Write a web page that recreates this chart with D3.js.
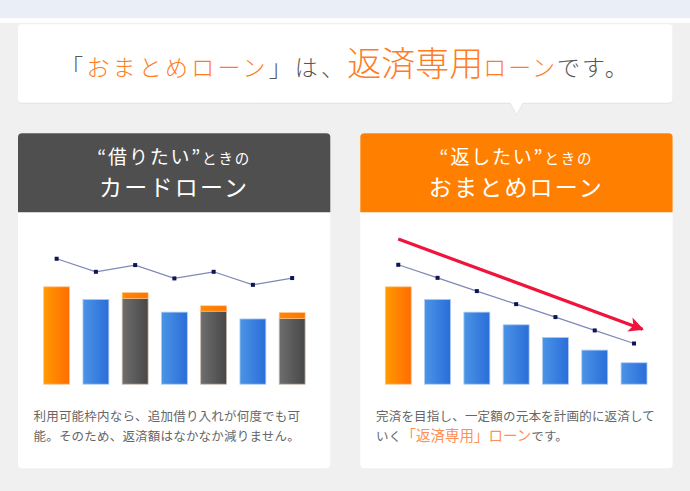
<!DOCTYPE html>
<html>
<head>
<meta charset="utf-8">
<script src="https://cdn.jsdelivr.net/npm/d3@7"></script>
<style>
    body { margin: 0; background: #f0f0f0; }
    svg { display: block; font-family: "Noto Sans CJK JP", "Noto Sans", sans-serif; }
</style>
</head>
<body>
<svg id="page" width="690" height="491"></svg>
<script>
// chart data
const periods = ["1", "2", "3", "4", "5", "6", "7"];

// card loan: principal part, extra borrowing on top, bar kind
const cardBase = [100, 87, 88, 74, 75, 67, 67.5];
const cardExtra = [0, 0, 6, 0, 5.5, 0, 6];
const cardKind = ["orange", "blue", "gray", "blue", "gray", "blue", "gray"];
const cardLine = [128.8, 115.4, 122.3, 108.6, 115.4, 102, 109];

// consolidation loan
const consBars = [100, 87, 74, 61, 48, 35, 22];
const consExtra = [0, 0, 0, 0, 0, 0, 0];
const consKind = ["orange", "blue", "blue", "blue", "blue", "blue", "blue"];
const consLine = [122.6, 109.2, 95.6, 82.2, 68.9, 55.2, 41.8];
const consArrow = [149, 56.5];

const svg = d3.select("#page");

/**
 * Gradients used by the bars
 */
function addDefs() {
    let defs = svg.append("defs");
    let grads = {
        orange: ["#ff9a00", "#ff6c00"],
        blue: ["#4b94e6", "#2a6dd9"],
        gray: ["#6e6e6e", "#474747"],
        cap: ["#ff8a00", "#ff7400"]
    };
    Object.keys(grads).forEach(function (k) {
        let g = defs.append("linearGradient").attr("id", "g-" + k)
            .attr("x1", 0).attr("x2", 1).attr("y1", 0).attr("y2", 0);
        g.append("stop").attr("offset", "0%").attr("stop-color", grads[k][0]);
        g.append("stop").attr("offset", "100%").attr("stop-color", grads[k][1]);
    });
    defs.append("marker").attr("id", "arrowhead")
        .attr("viewBox", "0 0 10 10").attr("refX", 9).attr("refY", 5)
        .attr("markerUnits", "userSpaceOnUse")
        .attr("markerWidth", 21).attr("markerHeight", 15)
        .attr("orient", "auto")
        .append("path").attr("d", "M0,0 L10,5 L0,10 L2.5,5 Z").attr("fill", "#f0143c");
}

const strokeOf = { orange: "#ffc38a", blue: "#aecbf2", gray: "#c9b9a8" };

function drawBackground() {
    svg.append("rect").attr("width", 690).attr("height", 18.3).attr("fill", "#eaeef7");
    svg.append("rect").attr("y", 18.3).attr("width", 690).attr("height", 4.4).attr("fill", "#ffffff");

    // title bubble
    svg.append("rect").attr("x", 18).attr("y", 25.3).attr("width", 654.5).attr("height", 78.5)
        .attr("rx", 4).attr("fill", "#e2e2e2");
    svg.append("polygon").attr("points", "509.5,103 523.5,103 516.7,115.5").attr("fill", "#e4e4e4");
    svg.append("rect").attr("x", 18).attr("y", 24.3).attr("width", 654.5).attr("height", 78.4)
        .attr("rx", 4).attr("fill", "#ffffff");
    svg.append("polygon").attr("points", "510,102 523,102 516.7,114.3").attr("fill", "#ffffff");

    let t = svg.append("text").attr("x", 345).attr("y", 75.5)
        .attr("text-anchor", "middle").attr("font-weight", 300)
        .attr("font-size", 23).attr("letter-spacing", 3.2).attr("fill", "#555");
    t.append("tspan").text("「");
    t.append("tspan").attr("fill", "#ff7d1e").text("おまとめローン");
    t.append("tspan").text("」は、");
    t.append("tspan").attr("fill", "#ff7d1e").attr("font-size", 34).attr("letter-spacing", 0).text("返済専用");
    t.append("tspan").attr("fill", "#ff7d1e").attr("letter-spacing", 2).text("ローン");
    t.append("tspan").attr("letter-spacing", 2).text("です。");
}

/**
 * Draws one card (header + white body)
 */
function drawCard(x0, headColor, head1, head1Small, head2) {
    let w = 312.3, cx = x0 + w / 2;
    svg.append("rect").attr("x", x0).attr("y", 133.3).attr("width", w).attr("height", 335)
        .attr("rx", 4).attr("fill", "#ffffff");
    svg.append("path")
        .attr("d", `M${x0},212.3 V137.3 Q${x0},133.3 ${x0 + 4},133.3 H${x0 + w - 4} Q${x0 + w},133.3 ${x0 + w},137.3 V212.3 Z`)
        .attr("fill", headColor);

    let t1 = svg.append("text").attr("x", cx).attr("y", 163.5).attr("text-anchor", "middle")
        .attr("fill", "#ffffff").attr("font-size", 19).attr("letter-spacing", 1.8);
    t1.append("tspan").text(head1);
    t1.append("tspan").attr("font-size", 14.5).text(head1Small);

    svg.append("text").attr("x", cx).attr("y", 196.3).attr("text-anchor", "middle")
        .attr("fill", "#ffffff").attr("font-size", 23).attr("letter-spacing", 2.2).text(head2);
}

function drawBars(g, x, y, base, extra, kind) {
    let rows = base.map((v, i) => ({ p: periods[i], v: v, e: extra[i], k: kind[i] }));

    g.selectAll("rect.bar").data(rows).enter().append("rect")
        .attr("class", "bar")
        .attr("x", d => x(d.p))
        .attr("width", x.bandwidth())
        .attr("y", d => y(d.v))
        .attr("height", d => y(0) - y(d.v))
        .attr("fill", d => "url(#g-" + d.k + ")")
        .attr("stroke", d => strokeOf[d.k])
        .attr("stroke-width", 0.8);

    g.selectAll("rect.cap").data(rows.filter(d => d.e > 0)).enter().append("rect")
        .attr("class", "cap")
        .attr("x", d => x(d.p))
        .attr("width", x.bandwidth())
        .attr("y", d => y(d.v + d.e))
        .attr("height", d => y(d.v) - y(d.v + d.e))
        .attr("fill", "url(#g-cap)")
        .attr("stroke", "#ffc38a")
        .attr("stroke-width", 0.6);
}

function drawLine(g, x, y, values) {
    let cx = i => x(periods[i]) + x.bandwidth() / 2;
    let line = d3.line().x((d, i) => cx(i)).y(d => y(d));
    g.append("path").datum(values).attr("d", line)
        .attr("fill", "none").attr("stroke", "#8087b6").attr("stroke-width", 1.2);
    g.selectAll("rect.pt").data(values).enter().append("rect")
        .attr("class", "pt")
        .attr("x", (d, i) => cx(i) - 2)
        .attr("y", d => y(d) - 2)
        .attr("width", 4).attr("height", 4)
        .attr("fill", "#0c1657");
}

function drawCharts() {
    let y = d3.scaleLinear().domain([0, 100]).range([384.2, 286.8]);

    // card loan
    let xl = d3.scaleBand().domain(periods).range([43.7, 305.1]).paddingInner(0.34).paddingOuter(0);
    let gl = svg.append("g");
    drawBars(gl, xl, y, cardBase, cardExtra, cardKind);
    drawLine(gl, xl, y, cardLine);

    // consolidation loan
    let xr = d3.scaleBand().domain(periods).range([385.3, 647]).paddingInner(0.34).paddingOuter(0);
    let gr = svg.append("g");
    drawBars(gr, xr, y, consBars, consExtra, consKind);
    drawLine(gr, xr, y, consLine);

    let ax = [xr(periods[0]) + xr.bandwidth() / 2, xr(periods[6]) + xr.bandwidth() / 2 + 8.5];
    gr.append("line")
        .attr("x1", ax[0]).attr("y1", y(consArrow[0]))
        .attr("x2", ax[1]).attr("y2", y(consArrow[1]))
        .attr("stroke", "#f0143c").attr("stroke-width", 3.2)
        .attr("marker-end", "url(#arrowhead)");
}

function drawCaptions() {
    let common = t => t.attr("font-size", 12.5).attr("fill", "#666").attr("letter-spacing", 0.2);

    common(svg.append("text").attr("x", 33.5).attr("y", 421)).text("利用可能枠内なら、追加借り入れが何度でも可");
    common(svg.append("text").attr("x", 33.5).attr("y", 441)).text("能。そのため、返済額はなかなか減りません。");

    common(svg.append("text").attr("x", 376).attr("y", 421)).text("完済を目指し、一定額の元本を計画的に返済して");
    let t = common(svg.append("text").attr("x", 376).attr("y", 441));
    t.append("tspan").text("いく");
    t.append("tspan").attr("fill", "#ff8f55").attr("font-size", 14.5).attr("letter-spacing", 0).text("「返済専用」ローン");
    t.append("tspan").text("です。");
}

addDefs();
drawBackground();
drawCard(18, "#4f4f4f", "“借りたい”", "ときの", "カードローン");
drawCard(360.3, "#ff8000", "“返したい”", "ときの", "おまとめローン");
drawCharts();
drawCaptions();
</script>
</body>
</html>
